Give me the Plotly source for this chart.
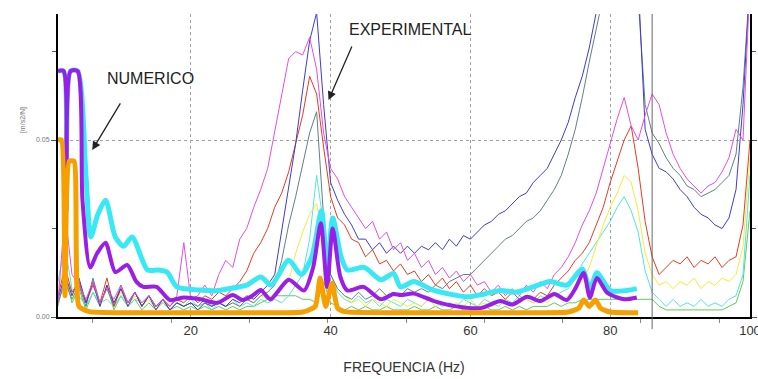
import plotly.graph_objects as go

# ---------------- data ----------------
freq = list(range(1, 101))  # Hz, experimental spectra sampled each 1 Hz

exp_magenta = [
    0.004, 0.030, 0.012, 0.009, 0.005, 0.010, 0.004, 0.008, 0.005, 0.009,
    0.004, 0.007, 0.004, 0.006, 0.003, 0.005, 0.003, 0.006, 0.021, 0.005,
    0.006, 0.009, 0.006, 0.012, 0.016, 0.014, 0.022, 0.025, 0.031, 0.036,
    0.042, 0.052, 0.062, 0.073, 0.075, 0.074, 0.079, 0.070, 0.052, 0.042,
    0.039, 0.034, 0.031, 0.028, 0.025, 0.027, 0.022, 0.024, 0.019, 0.021,
    0.016, 0.018, 0.014, 0.016, 0.012, 0.014, 0.011, 0.013, 0.010, 0.012,
    0.009, 0.010, 0.007, 0.009, 0.006, 0.008, 0.006, 0.009, 0.007, 0.010,
    0.008, 0.012, 0.014, 0.017, 0.021, 0.026, 0.030, 0.035, 0.042, 0.049,
    0.056, 0.062, 0.054, 0.050, 0.057, 0.063, 0.060, 0.052, 0.046, 0.042,
    0.039, 0.037, 0.035, 0.037, 0.038, 0.041, 0.045, 0.053, 0.050, 0.095,
]
exp_blue = [
    0.005, 0.012, 0.006, 0.011, 0.004, 0.010, 0.003, 0.009, 0.004, 0.008,
    0.003, 0.007, 0.003, 0.006, 0.002, 0.005, 0.002, 0.004, 0.003, 0.004,
    0.002, 0.004, 0.003, 0.004, 0.003, 0.005, 0.004, 0.006, 0.005, 0.007,
    0.009, 0.012, 0.024, 0.036, 0.049, 0.064, 0.078, 0.086, 0.060, 0.038,
    0.033, 0.029, 0.026, 0.022, 0.022, 0.019, 0.021, 0.018, 0.020, 0.018,
    0.020, 0.018, 0.020, 0.019, 0.021, 0.019, 0.022, 0.020, 0.023, 0.022,
    0.024, 0.026, 0.027, 0.029, 0.030, 0.032, 0.034, 0.035, 0.038, 0.040,
    0.042, 0.046, 0.050, 0.055, 0.062, 0.068, 0.076, 0.086, 0.095, 0.100,
    0.100, 0.100, 0.100, 0.095, 0.053, 0.046, 0.042, 0.041, 0.039, 0.036,
    0.034, 0.031, 0.029, 0.028, 0.026, 0.025, 0.028, 0.036, 0.060, 0.095,
]
exp_grey = [
    0.004, 0.010, 0.005, 0.009, 0.003, 0.011, 0.004, 0.008, 0.003, 0.009,
    0.004, 0.007, 0.003, 0.006, 0.003, 0.005, 0.002, 0.004, 0.003, 0.004,
    0.003, 0.005, 0.003, 0.004, 0.003, 0.004, 0.003, 0.005, 0.004, 0.006,
    0.007, 0.009, 0.016, 0.026, 0.034, 0.043, 0.052, 0.058, 0.028, 0.012,
    0.008, 0.006, 0.005, 0.007, 0.005, 0.006, 0.008, 0.006, 0.007, 0.006,
    0.008, 0.007, 0.008, 0.007, 0.009, 0.008, 0.010, 0.011, 0.012, 0.012,
    0.014, 0.016, 0.018, 0.020, 0.022, 0.023, 0.025, 0.027, 0.028, 0.030,
    0.033, 0.036, 0.040, 0.046, 0.053, 0.062, 0.072, 0.082, 0.092, 0.100,
    0.100, 0.100, 0.100, 0.090, 0.060, 0.052, 0.049, 0.045, 0.042, 0.040,
    0.037, 0.036, 0.034, 0.035, 0.036, 0.038, 0.040, 0.046, 0.065, 0.095,
]
exp_red = [
    0.006, 0.014, 0.007, 0.010, 0.004, 0.009, 0.004, 0.011, 0.003, 0.008,
    0.004, 0.007, 0.003, 0.006, 0.003, 0.005, 0.003, 0.005, 0.004, 0.006,
    0.004, 0.006, 0.005, 0.007, 0.006, 0.008, 0.010, 0.013, 0.018, 0.021,
    0.025, 0.031, 0.035, 0.041, 0.049, 0.057, 0.068, 0.063, 0.048, 0.034,
    0.028, 0.026, 0.022, 0.021, 0.017, 0.019, 0.015, 0.016, 0.013, 0.015,
    0.012, 0.013, 0.010, 0.012, 0.009, 0.011, 0.008, 0.010, 0.007, 0.009,
    0.006, 0.008, 0.006, 0.007, 0.005, 0.007, 0.005, 0.006, 0.005, 0.007,
    0.006, 0.009, 0.011, 0.013, 0.016, 0.018, 0.021, 0.026, 0.031, 0.038,
    0.044, 0.050, 0.054, 0.042, 0.027, 0.017, 0.012, 0.014, 0.016, 0.015,
    0.017, 0.014, 0.016, 0.015, 0.017, 0.014, 0.016, 0.017, 0.026, 0.050,
]
exp_yellow = [
    0.008, 0.015, 0.006, 0.009, 0.004, 0.010, 0.003, 0.008, 0.004, 0.007,
    0.003, 0.006, 0.003, 0.005, 0.002, 0.004, 0.003, 0.005, 0.003, 0.004,
    0.002, 0.004, 0.003, 0.005, 0.003, 0.004, 0.003, 0.005, 0.004, 0.006,
    0.005, 0.007, 0.008, 0.010, 0.018, 0.024, 0.029, 0.032, 0.022, 0.012,
    0.008, 0.006, 0.004, 0.005, 0.003, 0.005, 0.004, 0.003, 0.005, 0.004,
    0.003, 0.004, 0.003, 0.005, 0.003, 0.004, 0.003, 0.004, 0.003, 0.005,
    0.003, 0.004, 0.003, 0.004, 0.005, 0.003, 0.004, 0.005, 0.004, 0.005,
    0.004, 0.006, 0.005, 0.006, 0.008, 0.010, 0.014, 0.020, 0.026, 0.031,
    0.035, 0.040, 0.038, 0.030, 0.018, 0.012, 0.009, 0.010, 0.008, 0.010,
    0.009, 0.011, 0.008, 0.010, 0.009, 0.011, 0.010, 0.012, 0.020, 0.045,
]
exp_cyan = [
    0.010, 0.020, 0.008, 0.006, 0.003, 0.007, 0.004, 0.005, 0.003, 0.006,
    0.003, 0.005, 0.004, 0.006, 0.003, 0.004, 0.002, 0.004, 0.003, 0.005,
    0.003, 0.004, 0.002, 0.004, 0.003, 0.005, 0.003, 0.004, 0.003, 0.005,
    0.004, 0.005, 0.004, 0.006, 0.009, 0.012, 0.022, 0.040, 0.026, 0.012,
    0.007, 0.005, 0.004, 0.006, 0.004, 0.005, 0.003, 0.005, 0.004, 0.003,
    0.005, 0.004, 0.003, 0.005, 0.004, 0.003, 0.004, 0.003, 0.005, 0.004,
    0.003, 0.005, 0.004, 0.003, 0.005, 0.004, 0.006, 0.005, 0.004, 0.006,
    0.005, 0.006, 0.007, 0.008, 0.011, 0.015, 0.018, 0.021, 0.024, 0.027,
    0.031, 0.034, 0.030, 0.024, 0.013, 0.007, 0.005, 0.003, 0.005, 0.003,
    0.004, 0.003, 0.005, 0.003, 0.004, 0.003, 0.005, 0.006, 0.012, 0.040,
]
exp_green = [
    0.003, 0.012, 0.004, 0.008, 0.002, 0.007, 0.003, 0.009, 0.002, 0.006,
    0.003, 0.005, 0.002, 0.004, 0.002, 0.004, 0.002, 0.003, 0.002, 0.003,
    0.002, 0.003, 0.002, 0.003, 0.002, 0.003, 0.002, 0.003, 0.003, 0.004,
    0.005, 0.006, 0.006, 0.006, 0.006, 0.005, 0.005, 0.004, 0.010, 0.004,
    0.003, 0.002, 0.003, 0.002, 0.003, 0.002, 0.002, 0.003, 0.002, 0.002,
    0.002, 0.003, 0.002, 0.002, 0.003, 0.002, 0.002, 0.003, 0.002, 0.002,
    0.002, 0.003, 0.002, 0.002, 0.003, 0.002, 0.003, 0.002, 0.003, 0.003,
    0.003, 0.004, 0.003, 0.004, 0.004, 0.005, 0.005, 0.005, 0.005, 0.005,
    0.005, 0.005, 0.005, 0.005, 0.005, 0.005, 0.003, 0.002, 0.002, 0.002,
    0.002, 0.002, 0.002, 0.002, 0.002, 0.002, 0.003, 0.004, 0.010, 0.030,
]

# numerical (thick) curves: frequency / value pairs
num_cyan_f = [1.0, 1.8, 2.2, 2.8, 3.8, 5.0, 5.7, 6.7, 7.8, 9.2,
              10.4, 11.6, 13.8, 15.3, 16.6, 18.0, 21.4, 24.0, 26.0, 28.0,
              30.0, 31.5, 34.0, 35.8, 37.3, 38.7, 39.5, 40.3, 41.5, 42.4,
              44.8, 47.2, 49.0, 50.0, 51.9, 54.8, 59.6, 62.0, 64.3, 66.5,
              69.0, 71.4, 73.8, 76.0, 77.1, 78.1, 80.0, 82.4, 83.8]
num_cyan_v = [0.0695, 0.0695, 0.035, 0.0695, 0.0695, 0.040, 0.0226, 0.029, 0.033, 0.0226,
              0.020, 0.0226, 0.0133, 0.0133, 0.0127, 0.0085, 0.0076, 0.0075, 0.0082, 0.009,
              0.0113, 0.009, 0.016, 0.012, 0.017, 0.030, 0.013, 0.028, 0.017, 0.0133,
              0.014, 0.0105, 0.0123, 0.0085, 0.010, 0.0075, 0.0057, 0.0065, 0.0075, 0.007,
              0.0085, 0.010, 0.009, 0.0135, 0.008, 0.0125, 0.0075, 0.0075, 0.008]

num_purple_f = [1.0, 1.8, 2.2, 2.8, 3.8, 4.5, 5.6, 6.6, 7.8, 9.2,
                10.9, 12.2, 13.2, 15.1, 17.0, 19.0, 21.4, 23.8, 26.0, 27.4,
                28.8, 30.0, 31.4, 34.0, 36.2, 37.5, 38.6, 39.5, 40.3, 41.4,
                42.4, 44.7, 47.2, 49.0, 50.0, 51.9, 54.8, 58.0, 61.4, 64.3,
                66.0, 68.1, 70.0, 72.0, 73.8, 75.0, 76.2, 77.1, 78.1, 79.6,
                82.0, 83.8]
num_purple_v = [0.0695, 0.0695, 0.030, 0.0695, 0.0695, 0.033, 0.014, 0.018, 0.021, 0.0127,
                0.0147, 0.010, 0.0085, 0.0085, 0.0048, 0.0055, 0.005, 0.004, 0.0062, 0.0048,
                0.006, 0.0076, 0.005, 0.0105, 0.0075, 0.014, 0.0265, 0.0085, 0.025, 0.0113,
                0.0075, 0.0085, 0.005, 0.0065, 0.0062, 0.0066, 0.0045, 0.003, 0.0025, 0.0045,
                0.0035, 0.0057, 0.0045, 0.0065, 0.0048, 0.008, 0.0124, 0.0055, 0.011, 0.0068,
                0.005, 0.0055]

num_orange_f = [1.0, 1.5, 2.0, 2.6, 3.3, 4.0, 5.5, 10.0, 20.0, 30.0,
                36.0, 37.8, 38.5, 39.3, 40.2, 41.0, 42.0, 50.0, 60.0, 70.0,
                74.0, 75.5, 76.2, 77.0, 77.9, 78.6, 80.0, 84.0]
num_orange_v = [0.050, 0.050, 0.006, 0.044, 0.044, 0.003, 0.0015, 0.0012, 0.0012, 0.0012,
                0.0014, 0.003, 0.011, 0.003, 0.0095, 0.0025, 0.0015, 0.0012, 0.0012, 0.0012,
                0.0014, 0.0025, 0.0048, 0.003, 0.0048, 0.0025, 0.0014, 0.0012]

x_tick_labels = ["20", "40", "60", "80", "100"]
cursor_freq = 86.0

# ---------------- figure ----------------
fig = go.Figure()

exp_series = [
    (exp_green, "#5ccc5c"),
    (exp_cyan, "#55e3dc"),
    (exp_yellow, "#eeee3a"),
    (exp_grey, "#5f8088"),
    (exp_red, "#e83a22"),
    (exp_blue, "#3c3cd0"),
    (exp_magenta, "#e24ee2"),
]
for vals, col in exp_series:
    fig.add_trace(go.Scatter(x=freq, y=vals, mode="lines",
                             line=dict(color=col, width=1), hoverinfo="skip"))

fig.add_trace(go.Scatter(x=num_cyan_f, y=num_cyan_v, mode="lines",
                         line=dict(color="#38e8f4", width=5, shape="spline", smoothing=0.7)))
fig.add_trace(go.Scatter(x=num_purple_f, y=num_purple_v, mode="lines",
                         line=dict(color="#9a1ee6", width=4, shape="spline", smoothing=0.7)))
fig.add_trace(go.Scatter(x=num_orange_f, y=num_orange_v, mode="lines",
                         line=dict(color="#f5a000", width=5, shape="spline", smoothing=0.5)))

fig.add_shape(type="line", xref="x", yref="paper", x0=cursor_freq, x1=cursor_freq,
              y0=-0.04, y1=1, line=dict(color="#666666", width=1))

font_family = "Arial, Liberation Sans, sans-serif"

fig.add_annotation(x=14.2, y=0.0675, xref="x", yref="y", text="NUMERICO",
                   showarrow=False, font=dict(size=16, color="#222"))
fig.add_annotation(x=5.9, y=0.0472, xref="x", yref="y", text="", showarrow=True,
                   ax=29, ay=-48, arrowhead=2, arrowsize=1.3, arrowwidth=1.3,
                   arrowcolor="#222")
fig.add_annotation(x=51.4, y=0.0811, xref="x", yref="y", text="EXPERIMENTAL",
                   showarrow=False, font=dict(size=16, color="#222"))
fig.add_annotation(x=39.7, y=0.0613, xref="x", yref="y", text="", showarrow=True,
                   ax=24, ay=-55, arrowhead=2, arrowsize=1.3, arrowwidth=1.3,
                   arrowcolor="#222")
fig.add_annotation(x=-0.059, y=0.70, xref="paper", yref="paper", text="[m/s2/N]",
                   textangle=-90, showarrow=False, font=dict(size=7, color="#777"))

fig.update_layout(
    width=758, height=379,
    margin=dict(l=58, r=8, t=14, b=62, autoexpand=False),
    paper_bgcolor="white", plot_bgcolor="white",
    showlegend=False,
    font=dict(family=font_family),
)
fig.update_xaxes(
    range=[1, 100], automargin=False,
    tickvals=[20, 40, 60, 80, 100], ticktext=x_tick_labels,
    ticklabeloverflow="allow",
    showgrid=True, gridcolor="#a0a0a0", griddash="dot", gridwidth=1,
    showline=True, linecolor="black", linewidth=2,
    ticks="", tickfont=dict(size=13, color="#333"),
    zeroline=False,
    title=dict(text="FREQUENCIA (Hz)", font=dict(size=14, color="#333"), standoff=26),
    minor=dict(tick0=6, dtick=11.2, ticks="outside", ticklen=4,
               tickcolor="#888", showgrid=False),
)
fig.update_yaxes(
    range=[0, 0.0856], automargin=False,
    tick0=0, dtick=0.05, tickformat=".2f",
    showgrid=True, gridcolor="#a0a0a0", griddash="dot", gridwidth=1,
    showline=True, linecolor="black", linewidth=2, mirror="ticks",
    ticks="outside", ticklen=5, tickcolor="#555",
    tickfont=dict(size=7, color="#777"),
    zeroline=False,
    minor=dict(dtick=0.025, ticks="outside", ticklen=4, tickcolor="#555", showgrid=False),
)

fig.write_html("out.html", config={"displayModeBar": False},
               post_script="document.body.style.margin='0px';")
